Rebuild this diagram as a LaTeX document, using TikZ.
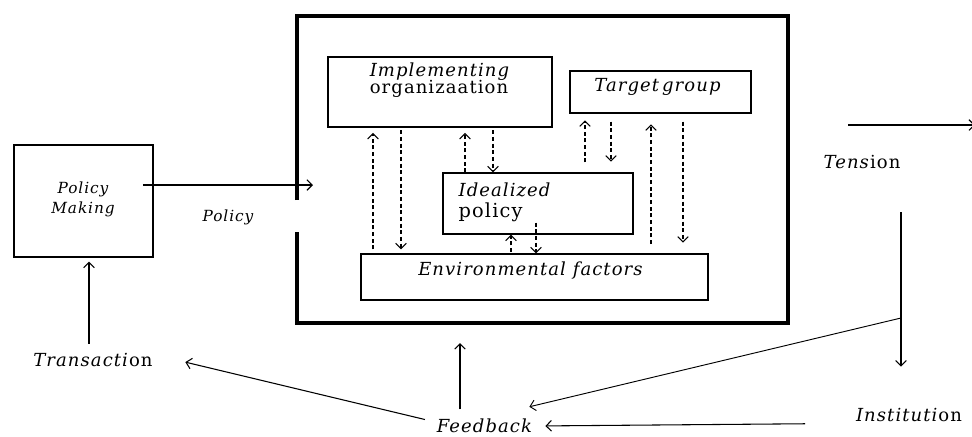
\documentclass[tikz,border=0pt]{standalone}
\usepackage{fontspec}
\setmainfont{DejaVu Serif}
\newfontfamily\labelfont{DejaVu Serif}[LetterSpace=6]
\usetikzlibrary{arrows.meta,fit}

\tikzset{
  box/.style={draw, line width=0.9pt, inner sep=0pt},
  arr/.style={-{Straight Barb[length=4pt,width=8pt]}, line width=0.8pt},
  darr/.style={arr, dash pattern=on 3pt off 2pt},
  lbl/.style={inner sep=1pt, font=\labelfont\fontsize{13.5}{15}\selectfont},
  smalllbl/.style={inner sep=1pt, align=center, font=\labelfont\itshape\fontsize{11.5}{15}\selectfont},
}

\begin{document}
\begin{tikzpicture}[x=0.75pt,y=0.75pt,yscale=-1,xscale=1]
\useasboundingbox (0,0) rectangle (972,436);

%Outer frame, open on the left
\draw[line width=2.6pt] (297,200) -- (297,16) -- (788,16) -- (788,323) -- (297,323) -- (297,232);

%Boxes
\node[box, fit={(14,145) (153,257)}] (policymaking) {};
\node[box, fit={(328,57) (552,127)}] (impl) {};
\node[box, fit={(570,71) (751,113)}] (target) {};
\node[box, fit={(443,173) (633,234)}] (ideal) {};
\node[box, fit={(361,254) (708,300)}] (env) {};

% Text Node
\node[smalllbl] (pmtext) at (83,199) {Policy\\Making};
% Text Node
\node[smalllbl] (policylbl) at (228,217) {Policy};
% Text Node
\node[lbl] (impltext) at (440,72) {\textit{Implementing}};
\node[lbl] (orgtext) at (439,89) {organizaation};
% Text Node
\node[lbl] (targettext) at (658,87) {\textit{Target\,group}};
% Text Node
\node[lbl, anchor=west] (idealtext) at (457,190) {\textit{Idealized}};
\node[lbl, anchor=west, font=\labelfont\fontsize{14.5}{16}\selectfont] (policytext) at (457,212) {policy};
% Text Node
\node[lbl] (envtext) at (531,271) {\textit{Environmental factors}};
% Text Node
\node[lbl] (tension) at (862,162) {\textit{Tens}ion};
% Text Node
\node[lbl] (transaction) at (93,360) {\textit{Transacti}on};
% Text Node
\node[lbl] (institution) at (909,415) {\textit{Instituti}on};
% Text Node
\node[lbl] (feedback) at (485,426) {\textit{Feedback}};

%Free ends
\coordinate (pin) at (313,185);
\coordinate (fbot) at (460,323);
\coordinate (tenstart) at (848,125);
\coordinate (tenend) at (975,125);
\coordinate (vtop) at (901,212);
\coordinate (vmid) at (901,318);

%Solid arrows
\draw[arr] ([xshift=-8pt,yshift=-12pt]policymaking.east) -- (pin);
\draw[arr, shorten <=6pt, shorten >=3pt] ([xshift=-3pt]transaction.north) -- ([xshift=-3pt]transaction.north |- policymaking.south);
\draw[arr, shorten <=8pt, shorten >=24pt] ([yshift=-3pt]feedback.west) -- ([yshift=-4pt]transaction.east);
\draw[arr, shorten <=6pt, shorten >=15pt] (feedback.north -| fbot) -- (fbot);
\draw[arr] (tenstart) -- (tenend);
\draw[arr, shorten >=30pt] (vtop) -- (vtop |- institution.north);
\draw[arr, line width=0.7pt] (vmid) -- ([xshift=-4pt,yshift=-8pt]feedback.north east);
\draw[arr, shorten <=37pt, shorten >=8pt] (institution.south west) -- (feedback.east);

%Dashed arrows between the boxes
\coordinate (c1) at (373,0);
\coordinate (c2) at (401,0);
\coordinate (c3) at (465,0);
\coordinate (c4) at (493,0);
\coordinate (c5) at (511,0);
\coordinate (c6) at (536,0);
\coordinate (c7) at (585,0);
\coordinate (c8) at (611,0);
\coordinate (c9) at (651,0);
\coordinate (c10) at (683,0);
\draw[darr, shorten <=3pt, shorten >=4pt] (env.north -| c1) -- (impl.south -| c1);
\draw[darr, shorten <=2pt, shorten >=3pt] (impl.south -| c2) -- (env.north -| c2);
\draw[darr, shorten >=4pt] (ideal.north -| c3) -- (impl.south -| c3);
\draw[darr, shorten <=2pt] (impl.south -| c4) -- (ideal.north -| c4);
\draw[darr, shorten <=1pt] (env.north -| c5) -- (ideal.south -| c5);
\draw[darr, shorten <=-9pt] (ideal.south -| c6) -- (env.north -| c6);
\draw[darr, shorten <=7.5pt, shorten >=5pt] (ideal.north -| c7) -- (target.south -| c7);
\draw[darr, shorten <=6pt, shorten >=8pt] (target.south -| c8) -- (ideal.north -| c8);
\draw[darr, shorten <=7pt, shorten >=8pt] (env.north -| c9) -- (target.south -| c9);
\draw[darr, shorten <=6pt, shorten >=8pt] (target.south -| c10) -- (env.north -| c10);

\end{tikzpicture}
\end{document}
